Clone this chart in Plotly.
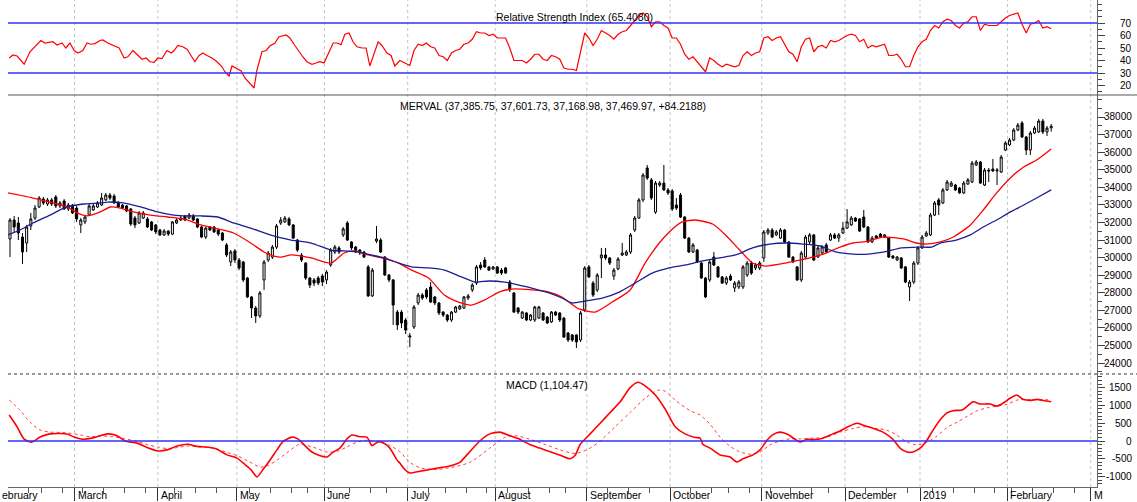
import plotly.graph_objects as go

# ---------------- data (trading-day index 0 = first visible session) ----------------
opens = [31060, 32140, 31970, 31170, 30830, 31800, 32250, 32880, 33330, 33050, 33280, 33450, 32940, 33220, 32770, 32990,
         32820, 31860, 32030, 32420, 32710, 32880, 32990, 33280, 33560, 33500, 33110, 32990, 32940, 32770, 32250, 31970, 32250, 32200, 32030, 31860,
         31570, 31290, 31510, 31340, 31970, 32140, 32370, 32250, 32370, 32200, 31740, 31170, 31740, 31740, 31570, 31400, 30720, 29750, 30380,
         29860, 29750, 28840, 27760, 27130, 26680, 28730, 29860, 30030, 30600, 31970, 32030, 32200, 31860, 31000, 30150, 29690, 28840, 28730, 28840, 28950,
         28730, 29580, 30320, 30550, 31290, 31970, 30890, 30600, 30430, 30320, 29470, 27820, 30940, 31000, 30030, 29010, 28730, 26900, 26900, 26450,
         25480, 26050, 27420, 27870, 28160, 28330, 27760, 27420, 26900, 26730, 26450, 26900, 27080, 27130, 27700, 28160, 28550, 29580, 29860, 29470, 29350,
         29470, 29290, 29410, 28610, 27990, 27130, 26560, 26850, 26450, 26450, 26560, 26850, 26620, 26340, 26900, 26850, 26560, 25710, 25600, 25600, 25310, 27020,
         29470, 28550, 28160, 29980, 30150, 29980, 28950, 29350, 30150, 30150, 30320, 31570, 32250, 33280, 35100, 34420, 32590, 34130, 34240, 33850,
         33790, 32990, 33560, 32310, 31110, 30320, 30430, 29690, 28840, 28730, 30030, 29470, 28900, 28550, 28950, 28270, 28330, 28330, 29010, 29690, 29410, 29410,
         29980, 31400, 31570, 31290, 31110, 31570, 30890, 30030, 29470, 28730, 30030, 30890, 31290, 30030, 30260, 30720, 31000, 31290, 31110, 31400,
         31680, 31860, 32250, 32200, 32310, 31740, 30890, 31230, 31340, 31170, 31110, 30090, 29860, 29980, 29470, 28330, 28610, 29690,
         30550, 31230, 31290, 32420, 33280, 33110, 33850, 34070, 34130, 33960, 33680, 34190, 34300, 35270, 35440, 34130, 34980, 35040, 34930, 34870, 36120,
         36410, 36690, 37260, 37660, 36860, 36120, 37090, 37150, 37770, 37150, 37385.75]
highs = [32250, 32370, 32310, 31400, 31860, 32540, 32990, 33500, 33450, 33390, 33390, 33560, 33220, 33330, 33110, 33050,
         32940, 32250, 32420, 33050, 33050, 33220, 33680, 33680, 33680, 33620, 33220, 33050, 32990, 32820, 32370, 32650, 32650, 32310, 32080, 31910,
         31630, 31630, 31570, 32080, 32250, 32370, 32420, 32540, 32480, 32250, 31800, 31740, 31800, 31800, 31630, 31460, 30830, 30430, 30490,
         29980, 29810, 28900, 27820, 27250, 28100, 29860, 30380, 30720, 31910, 32310, 32370, 32310, 31910, 31060, 30260, 29750, 28900, 28840, 28950, 29070,
         29290, 30550, 30720, 30660, 31740, 32080, 30940, 30660, 30490, 30380, 29580, 29410, 31800, 31110, 30090, 29070, 28780, 27020, 27020, 26560,
         25710, 27300, 27990, 27990, 28270, 28610, 27820, 27470, 26960, 26790, 26960, 27250, 27300, 27820, 27930, 28550, 29580, 29750, 30030, 29520, 29520,
         29520, 29410, 29470, 28730, 28040, 27190, 26960, 26900, 26790, 27250, 27250, 26900, 26680, 26960, 26960, 26900, 26620, 25770, 25650, 25650, 26960, 29520,
         29580, 28670, 29120, 30550, 30550, 30030, 29410, 30030, 30830, 30430, 31400, 32370, 33390, 34810, 35270, 34530, 34360, 34360, 35270, 33960,
         33900, 33390, 33680, 32370, 31170, 30830, 30490, 29750, 28900, 29860, 30320, 29520, 28950, 28950, 29070, 28670, 28730, 29580, 29810, 29810, 29690, 29810,
         31570, 31680, 31680, 31570, 31680, 31630, 30940, 30090, 29520, 30380, 31290, 31400, 31340, 30660, 30720, 30830, 31400, 31400, 31400, 32030,
         32760, 32370, 32310, 32250, 32710, 31800, 31230, 31290, 31400, 31340, 31170, 30150, 30090, 30030, 29520, 28730, 29810, 30660,
         31290, 31510, 32540, 33220, 33390, 33960, 34420, 34360, 34190, 34020, 34360, 34530, 35500, 35550, 35500, 35100, 35100, 35610, 35100, 35840, 36630,
         36810, 37370, 37660, 37770, 36920, 37200, 37490, 37890, 37890, 37490, 37601.73]
lows = [30030, 31400, 31000, 29640, 30320, 31570, 32140, 32820, 32990, 32940, 32940, 32820, 32820, 32710, 32650, 32480,
        32030, 31400, 31910, 32370, 32650, 32820, 32940, 33220, 33280, 33050, 32820, 32770, 32590, 31800, 31680, 31910, 32200, 31680, 31510, 31340,
        31230, 31230, 31230, 31290, 31910, 32080, 32080, 32200, 32080, 31680, 31110, 31060, 31510, 31400, 31230, 30940, 30030, 29520, 29690,
        29290, 28610, 27700, 26560, 26280, 26560, 28160, 29750, 29920, 30490, 31860, 31970, 31800, 31060, 30320, 29750, 28730, 28270, 28380, 28440, 28380,
        28500, 29470, 30200, 30200, 31170, 30940, 30430, 30260, 30150, 29980, 27760, 27760, 30830, 30260, 28950, 28610, 26170, 25880, 25990, 25650,
        24910, 25940, 27300, 27590, 27640, 27420, 27300, 26730, 26620, 26340, 26340, 26850, 27020, 27080, 27590, 28040, 28440, 29290, 29410, 29240, 29290,
        29070, 29010, 29070, 28040, 26850, 26790, 26510, 26390, 26390, 26340, 26510, 26390, 26220, 26280, 26680, 26340, 25430, 25200, 25200, 24860, 25200, 26900,
        28840, 27760, 28040, 28840, 29860, 29580, 28730, 29290, 30090, 30090, 30200, 31460, 32200, 33160, 34420, 33280, 32480, 34020, 33790, 33560,
        32650, 32710, 32250, 31060, 30260, 30260, 29690, 28780, 27700, 28610, 29520, 28840, 28500, 28440, 28670, 28040, 28210, 28210, 28900, 29010, 29290, 29290,
        29750, 31290, 31110, 31230, 31060, 30830, 29980, 29690, 28670, 28610, 29980, 30770, 29810, 29980, 30200, 30260, 30940, 31060, 30890, 31340,
        31630, 31800, 32030, 31460, 31680, 30830, 30830, 31060, 31110, 31110, 29980, 29920, 29810, 29350, 28550, 27530, 28500, 29580,
        30490, 31170, 31230, 32370, 32420, 33050, 33790, 34020, 33790, 33620, 33620, 34130, 34240, 35210, 34190, 34070, 34300, 34870, 34130, 34810, 36060,
        36350, 36630, 37200, 36810, 35840, 35840, 37030, 37090, 37030, 36920, 37168.98]
closes = [32140, 31740, 31400, 30320, 31740, 32200, 32820, 33390, 33110, 33280, 33050, 32940, 33110, 32770, 32990, 32540,
          32200, 32140, 32310, 32940, 32940, 33110, 33390, 33560, 33390, 33110, 32880, 32820, 32650, 31910, 31860, 32540, 32540, 31740, 31570, 31460,
          31290, 31510, 31340, 32030, 32140, 32250, 32140, 32420, 32140, 31740, 31170, 31680, 31570, 31460, 31340, 31000, 30150, 30320, 29860,
          29410, 28730, 27760, 27130, 26680, 27990, 29750, 30260, 30600, 31800, 32140, 32250, 31860, 31110, 30430, 29860, 28840, 28440, 28550, 28550, 28610,
          29180, 30430, 30600, 30320, 31630, 31000, 30550, 30320, 30260, 30030, 27820, 29290, 31060, 30320, 29010, 28730, 27300, 26170, 26280, 25880,
          25540, 27190, 27870, 27700, 27760, 27470, 27420, 26850, 26730, 26450, 26900, 27190, 27250, 27760, 27820, 28440, 29470, 29410, 29470, 29290, 29470,
          29120, 29120, 29120, 28160, 26900, 26900, 26900, 26450, 26730, 27190, 27190, 26450, 26280, 26900, 26730, 26450, 25480, 25310, 25310, 25200, 26850, 29410,
          28900, 27870, 29010, 30150, 29980, 29690, 29290, 29920, 30260, 30320, 31290, 32250, 33280, 34700, 34530, 33390, 34240, 34240, 33850, 33680,
          32770, 32820, 32310, 31110, 30320, 30720, 29750, 28840, 27760, 29750, 29580, 28900, 28550, 28840, 28730, 28550, 28610, 29470, 29690, 29120, 29580, 29690,
          31460, 31570, 31170, 31460, 31570, 30890, 30030, 29750, 28730, 30260, 31170, 31290, 29860, 30550, 30600, 30320, 31290, 31110, 31290, 31680,
          32030, 32250, 32080, 31510, 31740, 30890, 31110, 31110, 31170, 31290, 30030, 29980, 30030, 29410, 28610, 28610, 29690, 30550,
          31170, 31400, 32420, 33110, 32990, 33850, 34300, 34240, 33850, 33680, 34240, 34420, 35380, 35440, 34240, 34980, 34930, 34930, 34980, 35720, 36520,
          36690, 37260, 37540, 36860, 36120, 37090, 37370, 37770, 37150, 37370, 37469.97]
days = list(range(len(closes)))

ma_fast_x = [-0.5, 5.5, 9.6, 13.7, 16.1, 18.5, 21.7, 24.1, 26.5, 29.6, 33.7, 37.8, 41.7, 45.8, 49.9, 53.7, 57.8, 61, 63.4, 65.1,
             67.5, 72.3, 77.1, 80.2, 82.7, 86, 89.2, 93.3, 96.4, 100.5, 104.3, 107.7, 110.8, 114, 117.4, 120.5, 125.3, 129.4, 132.5, 136.6,
             140.5, 144.6, 148.9, 152.5, 155.9, 158.3, 161.4, 164.6, 168.7, 171.8, 175.2, 178.3, 181.4, 186.3, 189.6, 192.8, 195.9, 199.3, 202.4, 206.1,
             209.4, 214.5, 217.6, 220, 223.4, 226.5, 230.6, 233.7, 236.9, 240.2, 243.4, 246.5, 250]
ma_fast = [33680, 33390, 33160, 32880, 32540, 32370, 32600, 32880, 32820, 32600, 32420, 32310, 32200, 31860, 31630, 31400, 30830, 30320, 30090, 30030,
           30150, 29980, 29690, 30260, 30380, 30150, 29980, 29690, 29290, 28840, 27870, 27470, 27300, 27590, 28040, 28210, 28160, 28040, 27760, 27080,
           26900, 27470, 28160, 29690, 30830, 31460, 32030, 32140, 31910, 31290, 30430, 29690, 29520, 29690, 29860, 30030, 30260, 30600, 30830, 30940,
           31170, 31060, 30830, 30770, 30890, 31170, 31860, 32710, 33680, 34530, 35160, 35550, 36180]
ma_slow_x = [-0.5, 2.4, 5.5, 9.6, 13.7, 17.6, 21.7, 23.4, 27.2, 31.3, 35.4, 39.3, 42.7, 45.8, 49.9, 53.7, 57.8, 61.9, 65.1, 67.5,
             72.3, 77.1, 80.2, 83.6, 86.7, 89.9, 93.3, 96.4, 100.5, 104.3, 108.4, 111.6, 114.9, 118.8, 122.2, 125.3, 129.4, 132.5, 134.9, 138.1,
             142.2, 146.3, 150.1, 154.2, 158.3, 162.2, 166.3, 170.4, 174.2, 178.3, 182.4, 186.3, 190.4, 194.5, 198.3, 202.4, 206.1, 210, 214, 218.1,
             221.3, 223.4, 227.2, 230.6, 233.7, 236.9, 240.2, 243.4, 246.5, 250]
ma_slow = [31290, 31570, 31970, 32420, 32880, 33050, 33110, 33160, 33110, 32880, 32600, 32420, 32370, 32370, 32310, 31970, 31680, 31340, 31120, 31000,
           30830, 30430, 30380, 30320, 30150, 29980, 29690, 29470, 29410, 29290, 28900, 28610, 28670, 28610, 28440, 28270, 27990, 27700, 27420, 27530,
           27700, 28040, 28550, 29120, 29410, 29580, 29810, 29980, 30150, 30550, 30770, 30830, 30770, 30660, 30320, 30200, 30200, 30320, 30550, 30600,
           30600, 30830, 31000, 31290, 31740, 32140, 32600, 32990, 33390, 33850]

rsi_x = [-0.2, 0.7, 1.7, 3.4, 4.8, 6.0, 7.4, 8.4, 10.3, 11.3, 12.5, 13.4, 14.4, 15.4, 16.3, 17.5, 18.5, 19.4, 20.4, 21.6,
         22.3, 23.5, 24.7, 26.2, 27.4, 28.3, 29.5, 30.5, 31.7, 32.7, 33.6, 34.6, 35.5, 36.5, 37.7, 38.7, 39.4, 40.3, 41.5, 42.5,
         43.5, 44.4, 45.4, 46.3, 47.3, 48.5, 49.7, 50.9, 51.6, 52.6, 53.3, 54.5, 55.5, 56.4, 57.4, 58.6, 59.3, 60.5, 61.5, 62.4,
         63.6, 64.6, 66.3, 67.2, 68.4, 69.4, 70.3, 71.3, 72.5, 73.5, 74.4, 75.4, 76.4, 77.6, 78.5, 79.5, 80.4, 81.4, 82.4, 83.3,
         84.5, 85.5, 86.4, 87.4, 88.4, 89.3, 90.5, 91.5, 92.4, 93.6, 94.8] + list(range(96, 251))
rsi = [42, 44.4, 43.6, 37, 47, 51, 56, 54, 55, 52.4, 54, 50, 54, 48, 46, 48, 54, 53, 53.5, 56,
       56.5, 54, 52.4, 50, 42, 43, 48, 45, 41, 42, 39, 38.5, 42, 41.5, 48, 46, 48, 52, 51, 49,
       44, 39, 44, 46, 44, 42, 39, 35, 31, 27.6, 35.6, 33.6, 31.6, 26, 22, 18, 32.4, 47, 48, 51.6,
       54, 59, 60.4, 58, 52, 47, 43, 39, 37, 38, 39, 38, 45, 54, 54, 52.7, 61, 62, 54.8, 51,
       50, 50, 35.6, 45, 55, 52, 46, 44, 35.6, 40, 38,
       36, 48, 53, 52, 54, 51, 50, 44, 43, 40,
       46, 48, 49, 53, 54, 57, 63, 62, 62, 60,
       61, 58, 58, 58, 50, 40, 40, 40, 38, 41,
       45, 45, 41, 40, 44, 43, 41, 34, 33, 33,
       32, 47, 62, 58, 52, 57, 64, 62, 60, 57,
       61, 63, 64, 68, 72, 76, 78, 75, 67, 71,
       71, 68, 66, 58, 58, 53, 45, 41, 43, 39,
       35, 31, 42, 40, 37, 35, 37, 36, 35, 36,
       44, 47, 44, 46, 47, 58, 59, 56, 58, 59,
       53, 47, 45, 39, 51, 57, 58, 47, 51, 52,
       50, 56, 55, 56, 58, 60, 61, 60, 55, 57,
       50, 52, 51, 52, 53, 44, 44, 45, 41, 35,
       35, 44, 51, 55, 57, 64, 68, 66, 71, 73,
       72, 68, 66, 70, 71, 75, 75, 64, 69, 68,
       68, 68, 71, 74, 76, 77, 78, 69, 62, 69,
       70, 72, 66, 67, 65.408]

macd_x = [-0.2, 1.7, 3.4, 5.3, 7.2, 9.6, 12, 13.9, 15.4, 17.3, 19.7, 21.6, 23.5, 25.7, 27.6, 30.5, 32.9, 35.5, 37.7, 40.1,
          42.7, 44.9, 47.3, 49.7, 52.1, 54.5, 56.4, 57.9, 59.3, 60.7, 62.4, 64.1, 65.5, 67.7, 69.1, 70.8, 72.5, 74, 76.1, 77.6,
          79.2, 80.9, 82.1, 84, 85.7, 86.9, 88.4, 89.6, 91.2, 92.9, 93.6, 94.8, 96, 98.4, 100.8, 103.2, 105.6, 108, 110.4, 112.8,
          115.2, 117.6, 120, 122.4, 124.8, 127.2, 129.7, 132.1, 134.5, 135.7, 136.9, 139.3, 141.7, 144.1, 146.5, 148.9, 150.8, 152.5, 154.9, 157.3,
          159.7, 162.1, 164.5, 165.7, 166.4, 168.1, 170.5, 172.9, 174.5, 176, 178.4, 180.1, 181.8, 183.2, 184.9, 186.8, 188.5, 189.7, 191.4, 192.8,
          195.2, 197.6, 199.3, 201.2, 203.4, 204.9, 207.2, 209.6, 212, 213.7, 215.4, 216.8, 218.5, 220.2, 221.6, 223.3, 225, 226.4, 228.8, 231.2,
          232.9, 235.3, 236.9, 238.4, 240.1, 241.8, 243.2, 244.9, 246.6, 248.1, 250]
macd = [730, 400, 50, -30, 110, 200, 210, 190, 110, 50, 80, 150, 200, 150, 0, -60, -180, -280, -250, -140,
        -90, -150, -170, -230, -390, -480, -660, -810, -1010, -810, -540, -250, -20, 110, 60, -130, -310, -390, -450, -310,
        -200, 60, 170, 120, 110, -130, -20, -50, -200, -530, -620, -800, -900, -850, -800, -750, -700, -600, -300, 0,
        200, 250, 150, 50, -100, -200, -300, -400, -500, -400, -100, 200, 500, 800, 1100, 1500, 1650, 1550, 1300, 900,
        400, 200, 100, 80, -100, -200, -390, -450, -590, -500, -390, -250, 30, 180, 250, 180, 50, -30, 50, 40,
        80, 200, 280, 400, 500, 440, 360, 250, 50, -200, -310, -310, -200, 30, 300, 590, 790, 850, 880, 1100,
        1040, 1040, 980, 1060, 1200, 1290, 1170, 1140, 1170, 1140, 1104.47]
signal_x = [-0.2, 2.4, 4.8, 7.2, 9.6, 12, 14.4, 16.8, 19.2, 21.6, 24.7, 27.1, 30.5, 32.9, 35.5, 38.4, 40.8, 43.2, 45.6, 48.7,
            52.1, 54.5, 57.6, 60, 61.7, 64.1, 66.5, 69.6, 72.7, 76.1, 78.5, 80.9, 83.3, 85.7, 88.1, 90.5, 93.6, 96, 98.4, 102,
            105.6, 110.4, 115.2, 118.8, 121.2, 124.8, 128.5, 132.1, 135.7, 139.3, 141.7, 145.3, 148.9, 152.5, 155.6, 157.3, 159.7, 163.3, 165.7, 168.1,
            170.5, 172.9, 175.3, 177.7, 180.1, 182.5, 184.9, 187.3, 189.7, 192.8, 196.2, 199.3, 202.4, 204.9, 208.2, 210.6, 213, 215.4, 217.8, 220.2,
            222.6, 225, 227.4, 229.8, 232.2, 234.6, 237, 239.4, 241.8, 244.9, 247.3, 250]
signal = [1150, 870, 530, 310, 250, 240, 220, 170, 120, 140, 120, 70, -10, -100, -170, -220, -170, -140, -170, -200,
          -320, -410, -590, -730, -700, -540, -330, -90, -170, -310, -290, -170, -30, 20, -30, -90, -300, -600, -750, -800,
          -750, -600, -200, 100, 150, 50, -100, -250, -350, -200, 0, 400, 800, 1200, 1430, 1400, 1150, 850, 730, 470,
          110, -150, -310, -370, -310, -110, 0, 60, 60, 80, 110, 250, 350, 400, 350, 300, 160, -30, -110, -30,
          140, 380, 530, 690, 850, 930, 980, 1030, 1150, 1160, 1160, 1160]

month_pos = [15.5, 35.5, 54.5, 75.5, 95.5, 116.5, 138.5, 158.5, 180.5, 200.5, 218.5, 239.5, 259.5]
month_names = ["March", "April", "May", "June", "July", "August", "September", "October",
               "November", "December", "2019", "February", "M"]
week_pos = [4.5, 7.5, 12.5, 17.5, 22.5, 27.5, 32.5, 39.5, 44.5, 49.5, 57.5, 62.5, 67.5, 71.5, 76.5, 81.5, 86.5, 90.5,
            100.5, 104.5, 109.5, 114.5, 119.5, 124.5, 129.5, 133.5, 143.5, 148.5, 153.5, 163.5, 168.5, 172.5, 177.5,
            182.5, 187.5, 192.5, 196.5, 205.5, 210.5, 215.5, 221.5, 226.5, 231.5, 236.5, 240.5, 245.5, 250.5, 255.5]
rsi_ticks = [20, 30, 40, 50, 60, 70]
price_ticks = [24000, 25000, 26000, 27000, 28000, 29000, 30000, 31000, 32000, 33000, 34000, 35000, 36000, 37000, 38000]
macd_ticks = [-1000, -500, 0, 500, 1000, 1500]

# ---------------- figure ----------------
W, H = 1137, 502
ML, MR, MT, MB = 8, 40, 0, 15
PW, PH = W - ML - MR, H - MT - MB
def py(p):  # pixel y -> paper y
    return (PH - (p - MT)) / PH
def px(p):
    return (p - ML) / PW

FONT = "Arial, Liberation Sans, Helvetica, sans-serif"
RED = "#ff0000"
NAVY = "#1c1c96"
BLUE = "#3030ff"

fig = go.Figure()
fig.add_trace(go.Candlestick(
    x=days, open=opens, high=highs, low=lows, close=closes, yaxis="y2",
    increasing=dict(line=dict(color="black", width=1), fillcolor="white"),
    decreasing=dict(line=dict(color="black", width=1), fillcolor="black"),
    whiskerwidth=0, showlegend=False, hoverinfo="skip"))
fig.add_trace(go.Scatter(x=ma_fast_x, y=ma_fast, yaxis="y2", mode="lines",
                         line=dict(color=RED, width=1.3, shape="spline", smoothing=0.6), showlegend=False))
fig.add_trace(go.Scatter(x=ma_slow_x, y=ma_slow, yaxis="y2", mode="lines",
                         line=dict(color=NAVY, width=1.3, shape="spline", smoothing=0.6), showlegend=False))
fig.add_trace(go.Scatter(x=rsi_x, y=rsi, yaxis="y", mode="lines",
                         line=dict(color=RED, width=1.2), showlegend=False))
fig.add_trace(go.Scatter(x=signal_x, y=signal, yaxis="y3", mode="lines",
                         line=dict(color="#ff4040", width=1, dash="dot", shape="spline", smoothing=0.8), showlegend=False))
fig.add_trace(go.Scatter(x=macd_x, y=macd, yaxis="y3", mode="lines",
                         line=dict(color=RED, width=1.6, shape="spline", smoothing=0.6), showlegend=False))

shapes = []
for m in month_pos:
    shapes.append(dict(type="line", xref="x", yref="paper", x0=m, x1=m, y0=0, y1=1,
                       line=dict(color="#c4c4c4", width=1, dash="dot"), layer="below"))
for v in (70, 30):
    shapes.append(dict(type="line", xref="paper", yref="y", x0=0, x1=1, y0=v, y1=v,
                       line=dict(color=BLUE, width=1.4)))
shapes.append(dict(type="line", xref="paper", yref="y3", x0=0, x1=1, y0=0, y1=0,
                   line=dict(color=BLUE, width=1.4)))
shapes.append(dict(type="line", xref="paper", yref="paper", x0=0, x1=1.04, y0=py(95), y1=py(95),
                   line=dict(color="#555555", width=1)))
shapes.append(dict(type="line", xref="paper", yref="paper", x0=0, x1=1.04, y0=py(374), y1=py(374),
                   line=dict(color="#333333", width=1, dash="dot")))

ann = []
ann.append(dict(text="Relative Strength Index (65.4080)", xref="paper", yref="paper", x=px(574), y=py(17),
                yanchor="middle", showarrow=False, font=dict(size=10.5, color="black", family=FONT)))
ann.append(dict(text="MERVAL (37,385.75, 37,601.73, 37,168.98, 37,469.97, +84.2188)", xref="paper", yref="paper",
                x=px(553), y=py(106), yanchor="middle", showarrow=False, font=dict(size=10.5, color="black", family=FONT)))
ann.append(dict(text="MACD (1,104.47)", xref="paper", yref="paper", x=px(547), y=py(385),
                yanchor="middle", showarrow=False, font=dict(size=10.5, color="black", family=FONT)))
for ticks, ax in ((rsi_ticks, "y"), (price_ticks, "y2"), (macd_ticks, "y3")):
    for t in ticks:
        ann.append(dict(text=str(t), xref="paper", yref=ax, x=px(1134), y=t, xanchor="right", yanchor="middle",
                        showarrow=False, font=dict(size=10, color="black", family=FONT)))
for m, name in zip(month_pos, month_names):
    ann.append(dict(text=name, xref="x", yref="paper", x=m, y=py(495), xanchor="left", yanchor="middle", xshift=1,
                    showarrow=False, font=dict(size=10.5, color="black", family=FONT)))
ann.append(dict(text="ebruary", xref="paper", yref="paper", x=px(0), y=py(495), xanchor="left", yanchor="middle",
                showarrow=False, font=dict(size=10.5, color="black", family=FONT)))

yax_common = dict(side="right", anchor="x", showgrid=False, zeroline=False, showline=True,
                  linecolor="#666666", linewidth=1, ticks="outside", ticklen=7, tickcolor="#444444",
                  showticklabels=False, fixedrange=True)
fig.update_layout(
    width=W, height=H, margin=dict(l=ML, r=MR, t=MT, b=MB),
    paper_bgcolor="white", plot_bgcolor="white", showlegend=False,
    xaxis=dict(range=[-0.48, 261], anchor="y3", showgrid=False, zeroline=False, showline=True,
               linecolor="#666666", linewidth=1, ticks="outside", tickmode="array", tickvals=month_pos,
               ticklen=13, tickcolor="#333333", showticklabels=False, rangeslider=dict(visible=False),
               minor=dict(tickmode="array", tickvals=week_pos, ticks="outside", ticklen=5, tickcolor="#555555")),
    yaxis=dict(domain=[py(95), 1], range=[12.4, 88.4], tickmode="array", tickvals=rsi_ticks,
               minor=dict(dtick=5, ticks="outside", ticklen=4, tickcolor="#444444"), **yax_common),
    yaxis2=dict(domain=[py(374), py(95)], range=[23377, 39252], tickmode="array", tickvals=price_ticks,
                minor=dict(dtick=500, ticks="outside", ticklen=4, tickcolor="#444444"), **yax_common),
    yaxis3=dict(domain=[0, py(374)], range=[-1292, 1882], tickmode="array", tickvals=macd_ticks,
                minor=dict(dtick=100, ticks="outside", ticklen=4, tickcolor="#444444"), **yax_common),
    shapes=shapes, annotations=ann,
)
fig.write_html("out.html", config={"displayModeBar": False})

# remove the browser's default page margin so the 1137x502 figure fills the window exactly
with open("out.html", encoding="utf-8") as f:
    page = f.read()
page = page.replace("<head>", "<head><style>html,body{margin:0;padding:0;overflow:hidden;}</style>", 1)
with open("out.html", "w", encoding="utf-8") as f:
    f.write(page)
